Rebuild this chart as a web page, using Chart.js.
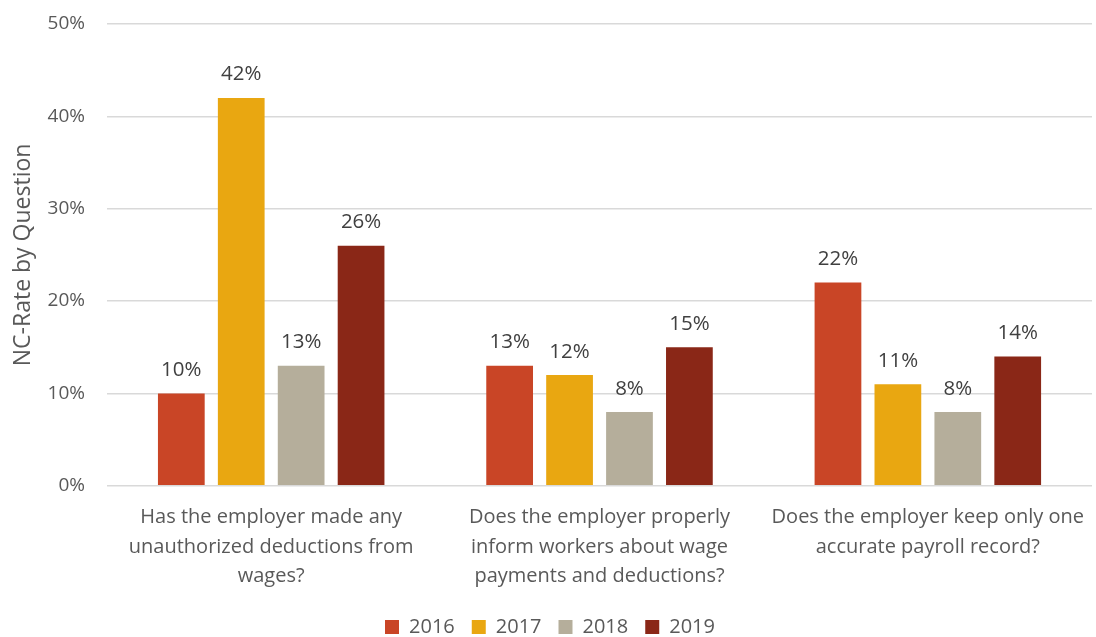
<!DOCTYPE html>
<html>
<head>
<meta charset="utf-8">
<script src="https://cdn.jsdelivr.net/npm/chart.js@4/dist/chart.umd.min.js"></script>
<style>
  html, body { margin: 0; padding: 0; background: #fff; }
  #wrap { width: 1096px; height: 637px; }
</style>
</head>
<body>
<div id="wrap"><canvas id="c" width="1096" height="637"></canvas></div>
<script>
const categories = [
  ["Has the employer made any", "unauthorized deductions from", "wages?"],
  ["Does the employer properly", "inform workers about wage", "payments and deductions?"],
  ["Does the employer keep only one", "accurate payroll record?"]
];
const years = ["2016", "2017", "2018", "2019"];
const values2016 = [10, 13, 22];
const values2017 = [42, 12, 11];
const values2018 = [13, 8, 8];
const values2019 = [26, 15, 14];
const yTicks = [0, 10, 20, 30, 40, 50];
const colors = ["#C94526", "#E9A711", "#B5AE9B", "#8A2717"];

const FONT = "'Open Sans', 'DejaVu Sans', sans-serif";

// Writes each bar's value just above it
const valueLabels = {
  id: 'valueLabels',
  afterDatasetsDraw(chart) {
    const ctx = chart.ctx;
    ctx.save();
    ctx.font = "20.5px " + FONT;
    ctx.fillStyle = "#404040";
    ctx.textAlign = "center";
    ctx.textBaseline = "bottom";
    chart.data.datasets.forEach((ds, i) => {
      chart.getDatasetMeta(i).data.forEach((bar, j) => {
        ctx.fillText(ds.data[j] + "%", bar.x, bar.y - 13);
      });
    });
    ctx.restore();
  }
};

const series = [values2016, values2017, values2018, values2019];

new Chart(document.getElementById('c'), {
  type: 'bar',
  data: {
    labels: categories,
    datasets: years.map((y, i) => ({
      label: y,
      data: series[i],
      backgroundColor: colors[i],
      borderWidth: 0,
      categoryPercentage: 0.73,
      barPercentage: 0.78
    }))
  },
  options: {
    responsive: false,
    animation: false,
    layout: { padding: { left: 8, right: 4, top: 0, bottom: -10 } },
    scales: {
      x: {
        grid: { display: false },
        border: { display: false },
        ticks: {
          font: { family: FONT, size: 20, lineHeight: 1.47 },
          color: "#595959",
          padding: 9,
          maxRotation: 0,
          autoSkip: false
        }
      },
      y: {
        min: 0,
        max: 50,
        afterBuildTicks(scale) { scale.ticks = yTicks.map(v => ({ value: v })); },
        afterFit(scale) { scale.paddingTop = 24; },
        grid: { color: "#D9D9D9", lineWidth: 1.5, drawTicks: false },
        border: { display: false },
        ticks: {
          font: { family: FONT, size: 19 },
          color: "#595959",
          padding: 22,
          callback: v => v + "%"
        },
        title: {
          display: true,
          text: "NC-Rate by Question",
          font: { family: FONT, size: 23 },
          color: "#595959",
          padding: { top: 2, bottom: -12 }
        }
      }
    },
    plugins: {
      legend: {
        position: 'bottom',
        labels: {
          font: { family: FONT, size: 20 },
          color: "#595959",
          boxWidth: 14,
          boxHeight: 14,
          padding: 17
        }
      },
      tooltip: { enabled: false }
    }
  },
  plugins: [valueLabels]
});
</script>
</body>
</html>
